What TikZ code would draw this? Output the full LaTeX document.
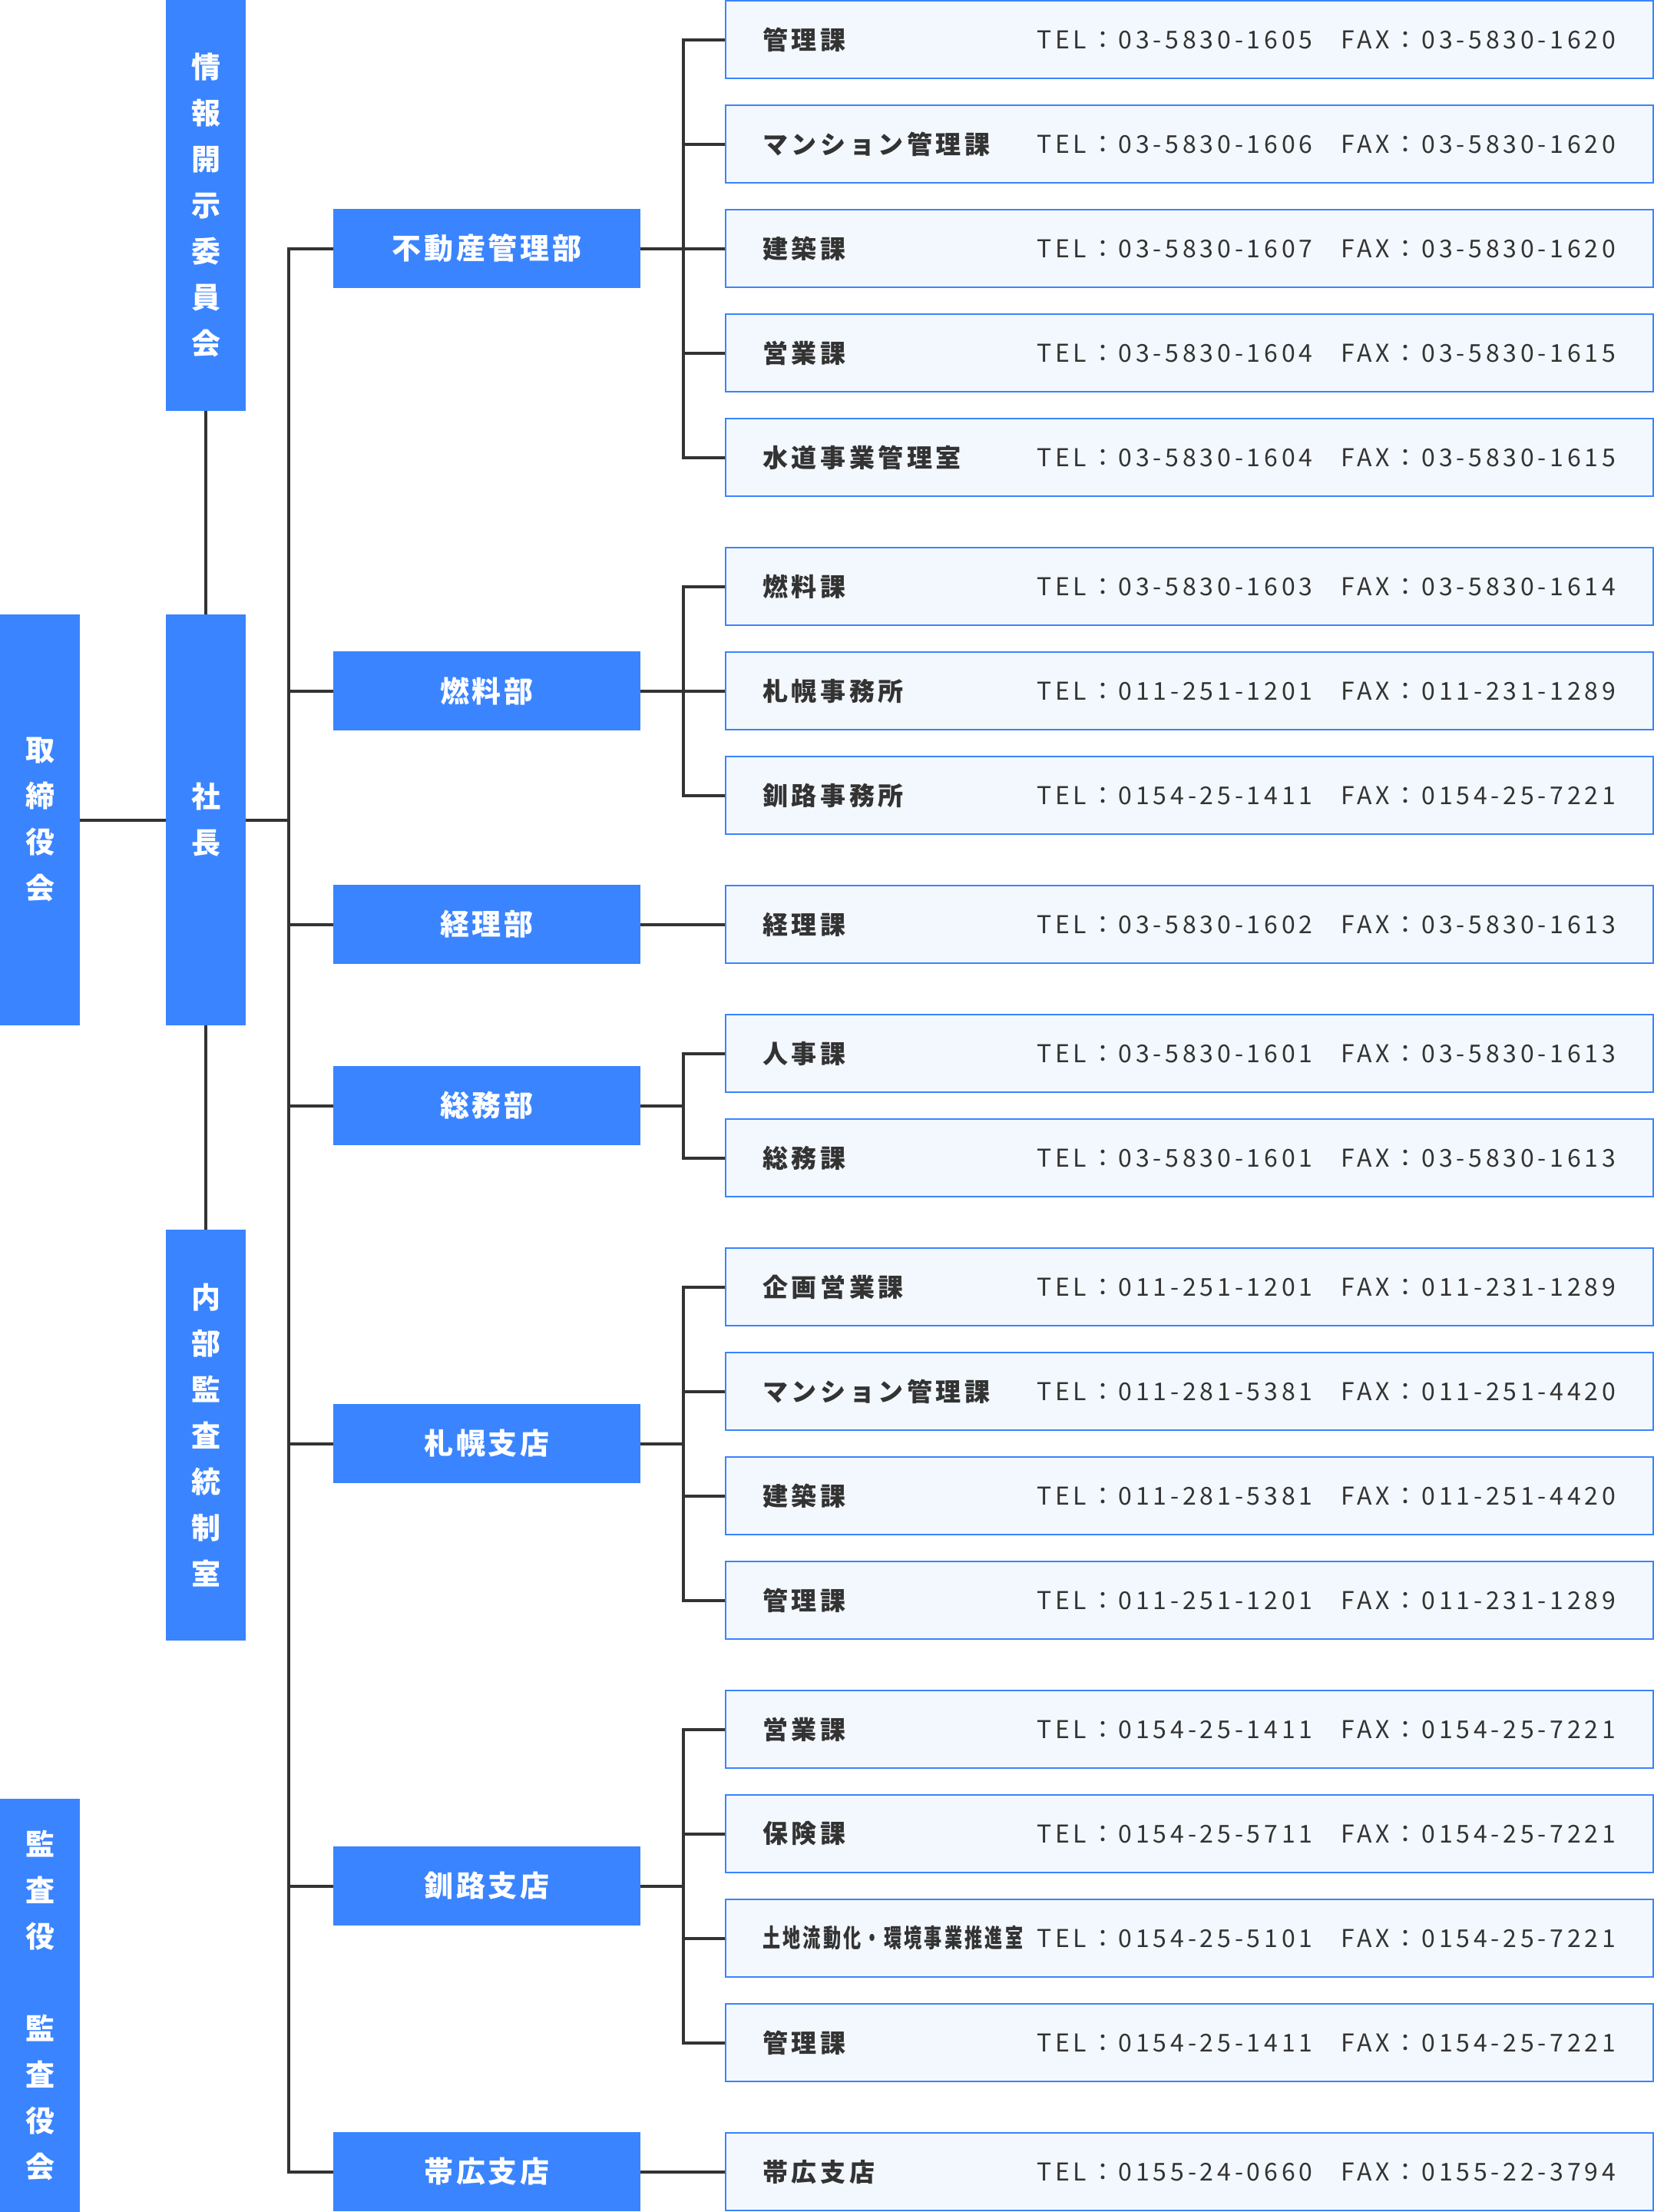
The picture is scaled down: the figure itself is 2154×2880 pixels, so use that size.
\documentclass[tikz,border=0pt]{standalone}
\usepackage{fontspec}
\usepackage{graphicx}
\setmainfont{Noto Sans CJK JP}
\newfontfamily\secfont[LetterSpace=14]{Noto Sans CJK JP}
\newfontfamily\telfont[LetterSpace=15]{Noto Sans CJK JP}
\newfontfamily\deptfont[LetterSpace=10]{Noto Sans CJK JP}
\usetikzlibrary{backgrounds}
\definecolor{mainblue}{HTML}{3A84FF}
\definecolor{secfill}{HTML}{F3F8FE}
\definecolor{linegray}{HTML}{333333}
\tikzset{
  vbox/.style={fill=mainblue, draw=none, inner sep=0pt, text=white, align=center,
    minimum width=104pt, minimum height=535pt, font=\fontsize{38}{60}\selectfont\bfseries},
  deptbox/.style={fill=mainblue, draw=none, inner sep=0pt, minimum width=400pt, minimum height=103pt,
    text=white, font=\deptfont\fontsize{38}{46}\selectfont\bfseries},
  secbox/.style={fill=secfill, draw=mainblue, line width=2pt, minimum width=1208pt,
    minimum height=101pt, inner sep=0pt},
  secname/.style={inner sep=0pt, anchor=west, text=linegray, font=\secfont\fontsize{33}{38}\selectfont\bfseries},
  telt/.style={inner sep=0pt, anchor=west, text=linegray, font=\telfont\fontsize{32}{38}\selectfont},
  conn/.style={draw=linegray, line width=4pt}
}
\newcommand{\secrow}[5]{%
  \node[secbox] (#1) at (1549,#2) {};
  \node[secname] (#1n) at (993,#2) {#3};
  \node[telt] (#1t) at (1350,#2) {TEL：#4};
  \node[telt] (#1f) at (1746,#2) {FAX：#5};
}
\begin{document}
\begin{tikzpicture}[x=1pt, y=-1pt]
\path[use as bounding box] (0,0) rectangle (2154,2880);

% left column
\node[vbox] (info) at (268,267.5) {情\\報\\開\\示\\委\\員\\会};
\node[vbox] (board) at (52,1067.5) {取\\締\\役\\会};
\node[vbox] (pres) at (268,1067.5) {社\\長};
\node[vbox] (audit) at (268,1868.5) {内\\部\\監\\査\\統\\制\\室};
\node[vbox, minimum height=538pt] (kansa) at (52,2611) {監\\査\\役\\[60pt]監\\査\\役\\会};

% departments
\node[deptbox] (d1) at (634,323.5) {不動産管理部};
\node[deptbox] (d2) at (634,899.5) {燃料部};
\node[deptbox] (d3) at (634,1203.5) {経理部};
\node[deptbox] (d4) at (634,1439.5) {総務部};
\node[deptbox] (d5) at (634,1879.5) {札幌支店};
\node[deptbox] (d6) at (634,2455.5) {釧路支店};
\node[deptbox] (d7) at (634,2827.5) {帯広支店};

% sections
\secrow{s1a}{51.5}{管理課}{03-5830-1605}{03-5830-1620}
\secrow{s1b}{187.5}{マンション管理課}{03-5830-1606}{03-5830-1620}
\secrow{s1c}{323.5}{建築課}{03-5830-1607}{03-5830-1620}
\secrow{s1d}{459.5}{営業課}{03-5830-1604}{03-5830-1615}
\secrow{s1e}{595.5}{水道事業管理室}{03-5830-1604}{03-5830-1615}
\secrow{s2a}{763.5}{燃料課}{03-5830-1603}{03-5830-1614}
\secrow{s2b}{899.5}{札幌事務所}{011-251-1201}{011-231-1289}
\secrow{s2c}{1035.5}{釧路事務所}{0154-25-1411}{0154-25-7221}
\secrow{s3a}{1203.5}{経理課}{03-5830-1602}{03-5830-1613}
\secrow{s4a}{1371.5}{人事課}{03-5830-1601}{03-5830-1613}
\secrow{s4b}{1507.5}{総務課}{03-5830-1601}{03-5830-1613}
\secrow{s5a}{1675.5}{企画営業課}{011-251-1201}{011-231-1289}
\secrow{s5b}{1811.5}{マンション管理課}{011-281-5381}{011-251-4420}
\secrow{s5c}{1947.5}{建築課}{011-281-5381}{011-251-4420}
\secrow{s5d}{2083.5}{管理課}{011-251-1201}{011-231-1289}
\secrow{s6a}{2251.5}{営業課}{0154-25-1411}{0154-25-7221}
\secrow{s6b}{2387.5}{保険課}{0154-25-5711}{0154-25-7221}
\secrow{s6c}{2523.5}{\scalebox{0.70}[1]{土地流動化・環境事業推進室}}{0154-25-5101}{0154-25-7221}
\secrow{s6d}{2659.5}{管理課}{0154-25-1411}{0154-25-7221}
\secrow{s7a}{2827.5}{帯広支店}{0155-24-0660}{0155-22-3794}

% connectors
\begin{pgfonlayer}{background}
\fill[white] (0,0) rectangle (2154,2880);
\draw[conn] (info.south) -- (pres.north);
\draw[conn] (pres.south) -- (audit.north);
\draw[conn] (board.east) -- (pres.west);
\coordinate (tr) at (376,1067.5);
\draw[conn] (pres.east) -- (tr);
\foreach \d in {d1,d2,d3,d4,d5,d6,d7} \draw[conn] (tr) |- (\d.west);
\coordinate (b1) at (890,323.5);
\coordinate (b2) at (890,899.5);
\coordinate (b4) at (890,1439.5);
\coordinate (b5) at (890,1879.5);
\coordinate (b6) at (890,2455.5);
\draw[conn] (d1.east) -- (b1);
\draw[conn] (d2.east) -- (b2);
\draw[conn] (d4.east) -- (b4);
\draw[conn] (d5.east) -- (b5);
\draw[conn] (d6.east) -- (b6);
\foreach \s in {s1a,s1b,s1c,s1d,s1e} \draw[conn] (b1) |- (\s.west);
\foreach \s in {s2a,s2b,s2c} \draw[conn] (b2) |- (\s.west);
\foreach \s in {s4a,s4b} \draw[conn] (b4) |- (\s.west);
\foreach \s in {s5a,s5b,s5c,s5d} \draw[conn] (b5) |- (\s.west);
\foreach \s in {s6a,s6b,s6c,s6d} \draw[conn] (b6) |- (\s.west);
\draw[conn] (d3.east) -- (s3a.west);
\draw[conn] (d7.east) -- (s7a.west);
\end{pgfonlayer}
\end{tikzpicture}
\end{document}
